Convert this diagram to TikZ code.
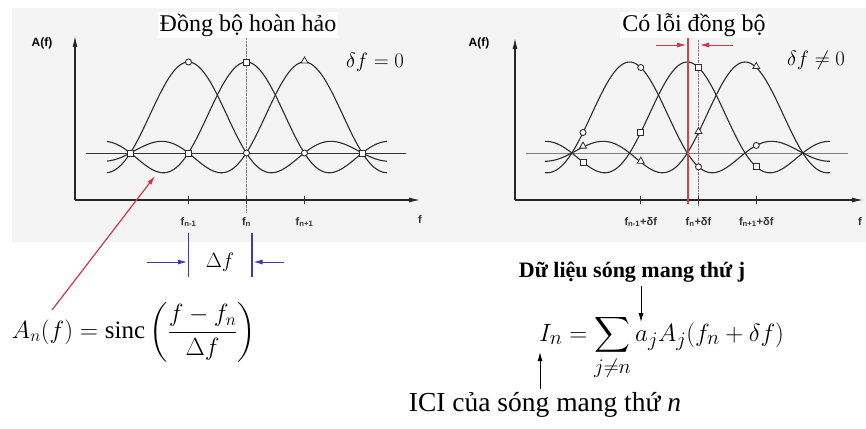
\documentclass[tikz,border=0pt]{standalone}
\usepackage{amsmath}
\usepackage{fontspec}
\setmainfont{Liberation Serif}
\setsansfont{Liberation Sans}
\usetikzlibrary{arrows.meta, positioning, shapes.geometric}

\definecolor{bgray}{RGB}{244,244,244}
\definecolor{wavec}{RGB}{45,45,45}
\definecolor{redln}{RGB}{205,55,70}
\definecolor{redbar}{RGB}{195,75,75}
\definecolor{blueln}{RGB}{60,60,175}

\tikzset{declare function={sincf(\t)=sin(180*(\t+0.003))/(pi*(\t+0.003));}}

\begin{document}
\begin{tikzpicture}[x=1pt, y=-1pt, >={Latex[length=9pt,width=5pt]},
  wave/.style={wavec, line width=1.1pt},
  axis/.style={black!85, line width=1.1pt, -{Latex[length=11pt,width=5pt]}},
  mcirc/.style={draw=wavec, fill=white, circle, inner sep=0pt, minimum size=6pt, line width=0.9pt},
  msq/.style={draw=wavec, fill=white, rectangle, inner sep=0pt, minimum size=6pt, line width=0.9pt},
  mtri/.style={draw=wavec, fill=white, regular polygon, regular polygon sides=3, inner sep=0pt, minimum size=8pt, line width=0.8pt},
  flabel/.style={font=\sffamily\bfseries\fontsize{11}{12}\selectfont, text=black!80},
  ttl/.style={font=\fontsize{24}{27}\selectfont, fill=white, inner sep=2pt}]
  \useasboundingbox (0,0) rectangle (866,428);
  \fill[bgray] (12,8) rectangle (866,242);

  % Left panel: perfect sync
  \node[ttl] (t1) at (248,25) {Đồng bộ hoàn hảo};
  \coordinate (o1) at (75,200);
  \draw[axis] (o1) -- ++(0,-164);
  \draw[axis] (o1) -- ++(345,0);
  \node[font=\sffamily\bfseries\fontsize{12}{13}\selectfont] (a1) at (42,43) {A(f)};
  \draw[black!80, line width=0.9pt] (86,153) -- (406,153);
  \draw[gray, densely dotted] (246.5,38) -- (246.5,212);
  \foreach \c in {188.5,246.5,304.5}
    \draw[wave] plot[domain=107:387, samples=141] (\x, {153-91*sincf((\x-\c)/58)});
  \foreach \g [count=\i] in {130.5,188.5,362.5}
    \node[msq] (b\i) at (\g,153) {};
  \node[mcirc] (b4) at (246.5,153) {};
  \node[mcirc] (b5) at (304.5,153) {};
  \node[mcirc] (p1) at (188.5,62) {};
  \node[msq] (p2) at (246.5,62) {};
  \node[mtri] (p3) at (304.5,61) {};
  \foreach \g/\s [count=\i] in {188.5/{n-1},246.5/n,304.5/{n+1}}{
    \draw[black!80, line width=0.8pt] (\g,196) -- (\g,204);
    \node[flabel] (l\i) at (\g,222) {f\textsubscript{\s}};
  }
  \node[flabel] (fx1) at (420,220) {f};
  \node[font=\fontsize{20}{22}\selectfont] (d1) at (375,62) {$\delta f = 0$};

  % Right panel: sync error
  \node[ttl] (t2) at (694,25) {Có lỗi đồng bộ};
  \coordinate (o2) at (515,200);
  \draw[axis] (o2) -- ++(0,-162);
  \draw[axis] (o2) -- ++(348,0);
  \node[font=\sffamily\bfseries\fontsize{12}{13}\selectfont] (a2) at (479,43) {A(f)};
  \draw[gray, line width=0.7pt] (526,153) -- (848,153);
  \draw[gray, densely dotted] (698.5,40) -- (698.5,206);
  \foreach \c in {629.75,687.5,745.25}
    \draw[wave] plot[domain=545:830, samples=144] (\x, {153-91*sincf((\x-\c)/57.75)});
  \draw[redbar, line width=2pt] (687.5,38) -- (687.5,204);
  \foreach \s [count=\i] in {583,640.75,698.5,756.25}{
    \node[mcirc] (rc\i) at (\s, {153-91*sincf((\s-629.75)/57.75)}) {};
    \node[msq] (rs\i) at (\s, {153-91*sincf((\s-687.5)/57.75)}) {};
    \node[mtri] (rt\i) at (\s, {152-91*sincf((\s-745.25)/57.75)}) {};
  }
  \foreach \g/\s [count=\i] in {640.75/{n-1},698.5/n,756.25/{n+1}}{
    \draw[black!80, line width=0.8pt] (\g,196) -- (\g,204);
    \node[flabel] (r\i) at (\g,222) {f\textsubscript{\s}+δf};
  }
  \node[flabel] (fx2) at (860,222) {f};
  \node[font=\fontsize{20}{22}\selectfont] (d2) at (816,60) {$\delta f \neq 0$};

  % Offset arrows
  \coordinate (ra) at (656,45);
  \coordinate (rb) at (733,45);
  \draw[->, redln, line width=0.8pt] (ra) -- (686,45);
  \draw[->, redln, line width=0.8pt] (rb) -- (700,45);

  % Spacing
  \draw[blueln, line width=1.2pt] (188.5,233) -- (188.5,277);
  \draw[blueln, line width=1.2pt] (252,233) -- (252,277);
  \coordinate (ba) at (147,262);
  \coordinate (bb) at (284,262);
  \draw[->, blueln, line width=0.9pt] (ba) -- (187,262);
  \draw[->, blueln, line width=0.9pt] (bb) -- (253.5,262);
  \node[font=\fontsize{21}{24}\selectfont] (df) at (220,262) {$\Delta f$};

  % Formulas
  \node[font=\fontsize{25}{29}\selectfont, inner sep=0pt] (fa) at (134,332)
    {$A_n(f) = \mathrm{sinc}\left(\dfrac{f-f_n}{\Delta f}\right)$};
  \coordinate (tail) at (52,310);
  \coordinate (lobe) at (155,176);
  \draw[->, redln, line width=1.2pt] (tail) -- (lobe);

  \node[font=\fontsize{29}{33}\selectfont, inner sep=0pt, anchor=base east] (fl) at (631,341)
    {$I_n = \displaystyle\sum_{j\neq n}$};
  \node[font=\fontsize{29}{33}\selectfont, inner sep=0pt, anchor=base west,
        right=4pt of fl.base east, anchor=base west] (fr)
    {$a_j A_j(f_n+\delta f)$};
  \node[font=\bfseries\fontsize{22}{25}\selectfont] (data) at (632,272) {Dữ liệu sóng mang thứ j};
  \node[font=\fontsize{27.5}{31}\selectfont] (ici) at (545,405) {ICI của sóng mang thứ \textit{n}};
  \coordinate (aj) at ([xshift=6pt]fr.north west);
  \coordinate (in) at (540,352);
  \draw[->, black, line width=1pt] (data.south -| aj) -- (aj);
  \draw[->, black, line width=1pt] (ici.north -| in) -- (in);
\end{tikzpicture}
\end{document}
